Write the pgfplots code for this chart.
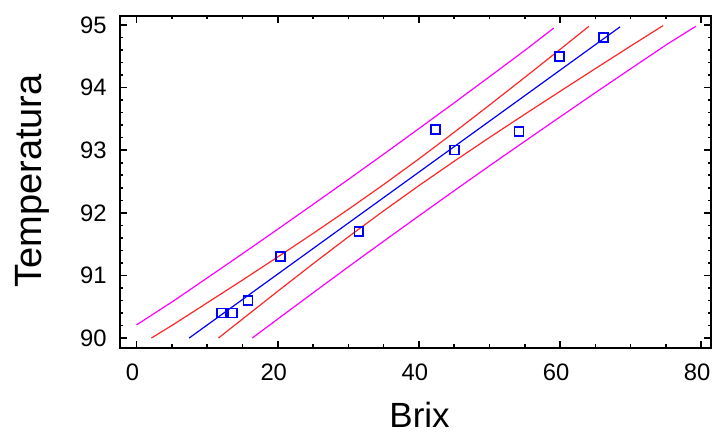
\documentclass[border=0pt]{standalone}
\usepackage{fontspec}
\setmainfont{Liberation Sans}
\usepackage{pgfplots}
\pgfplotsset{compat=1.18}
\definecolor{cblue}{RGB}{0,0,255}
\definecolor{cred}{RGB}{255,40,40}
\definecolor{cmag}{RGB}{255,0,255}
\begin{document}
\begin{tikzpicture}
\begin{axis}[name=ax, scale only axis, width=295.75pt, height=166pt,
 xmin=-2.36, xmax=81.39, ymin=89.845, ymax=95.144,
 xtick={0,20,40,60,80}, ytick={90,91,92,93,94,95},
 minor x tick num=3, minor y tick num=4,
 tick align=inside, major tick length=3.5pt, minor tick length=1.75pt,
 axis line style={line width=1pt, black},
 tick style={line width=0.8pt, black},
 /pgf/number format/assume math mode=true,
 tick label style={font=\fontsize{11.9}{13}\selectfont, inner sep=0pt},
 xticklabel style={anchor=north, yshift=-8pt, xshift=-2pt},
 yticklabel style={anchor=east, xshift=-6.5pt},
 xlabel={Brix}, ylabel={Temperatura},
 xlabel style={font=\fontsize{17.5}{20}\selectfont, at={(axis description cs:0.507,-0.241)}, anchor=base},
 ylabel style={font=\fontsize{19}{22}\selectfont, at={(axis description cs:-0.132,0.503)}, anchor=base},
]
% prediction limits (magenta)
\addplot[cmag, line width=0.6pt] coordinates {(0,90.21) (5.15,90.586) (10.15,90.971) (15.15,91.358) (20.15,91.750) (25.15,92.146) (30.15,92.545) (35.15,92.948) (40.15,93.357) (45.15,93.769) (50.15,94.186) (55.15,94.606) (59.1,94.95)};
\addplot[cmag, line width=0.6pt] coordinates {(16.4,90.0) (20.15,90.316) (25.15,90.734) (30.15,91.149) (35.15,91.558) (40.15,91.963) (45.15,92.365) (50.15,92.762) (55.15,93.154) (60.15,93.543) (65.15,93.930) (70.15,94.312) (75.15,94.691) (79.25,94.98)};
% confidence limits (red)
\addplot[cred, line width=0.6pt] coordinates {(2.1,90.0) (5.15,90.211) (10.15,90.573) (15.15,90.936) (20.15,91.306) (25.15,91.681) (30.15,92.067) (35.15,92.463) (40.15,92.874) (45.15,93.299) (50.15,93.734) (55.15,94.176) (60.15,94.623) (64.1,94.98)};
\addplot[cred, line width=0.6pt] coordinates {(11.6,90.0) (15.15,90.316) (20.15,90.760) (25.15,91.199) (30.15,91.628) (35.15,92.043) (40.15,92.446) (45.15,92.835) (50.15,93.214) (55.15,93.585) (60.15,93.951) (65.15,94.314) (70.15,94.674) (74.6,94.99)};
% fitted line
\addplot[cblue, line width=0.6pt] coordinates {(7.45,90.0) (68.5,94.97)};
% observations
\addplot[only marks, mark=square, mark size=2.25pt, cblue, mark options={line width=0.75pt}] coordinates {
(12.04,90.4) (13.59,90.4) (15.76,90.6) (20.40,91.3) (31.48,91.7) (42.38,93.33) (45.07,93.0) (54.17,93.3) (59.94,94.5) (66.17,94.8)};
\end{axis}
\path ([xshift=-60pt,yshift=-42pt]ax.south west) rectangle ([xshift=0.25pt,yshift=8pt]ax.north east);
\end{tikzpicture}
\end{document}
